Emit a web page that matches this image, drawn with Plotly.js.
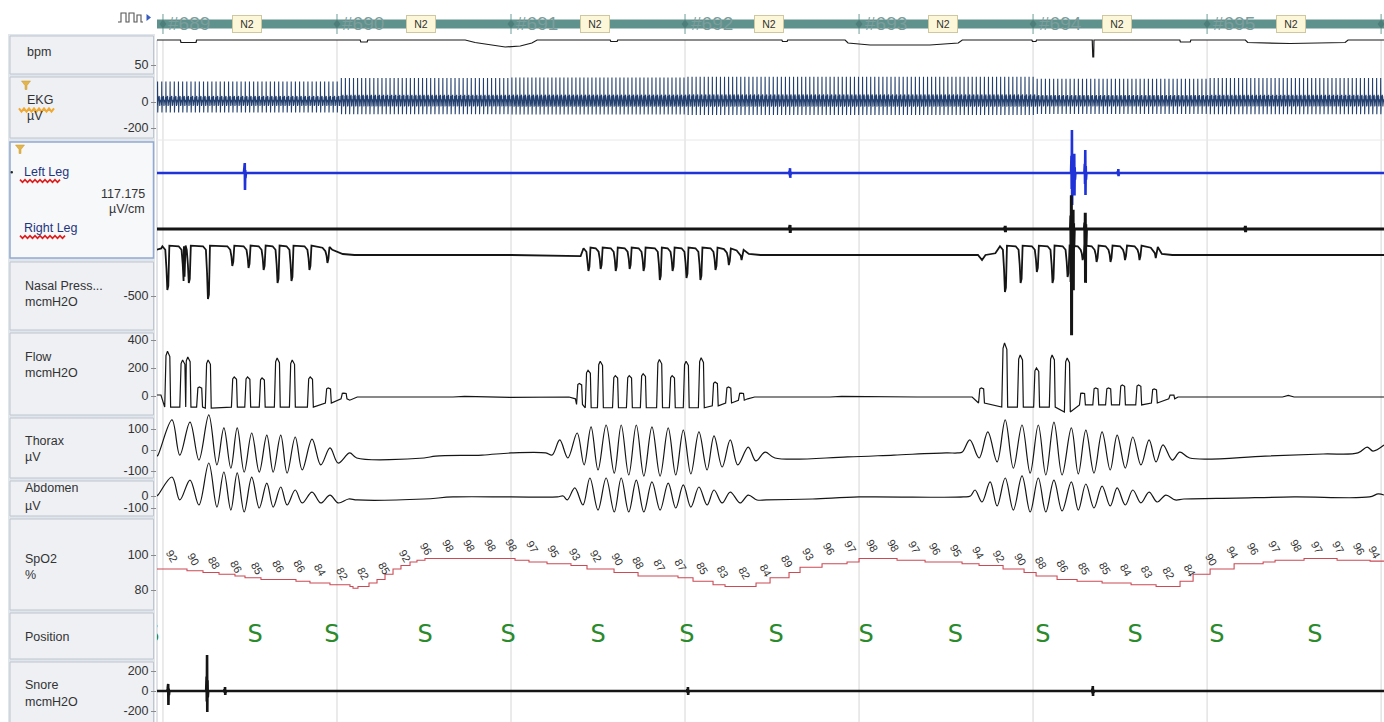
<!DOCTYPE html>
<html><head><meta charset="utf-8">
<script src="https://cdn.plot.ly/plotly-3.0.1.min.js"></script>
<style>html,body{margin:0;padding:0;background:#fff;overflow:hidden}#chart{width:1384px;height:722px}</style>
</head><body><div id="chart"></div>
<script>
// ================= DATA (time in seconds from start of epoch #689) =================
const epochNumbers = ['#689','#690','#691','#692','#693','#694','#695'];
const epochStages  = ['N2','N2','N2','N2','N2','N2','N2'];
const epochStarts  = [0, 30, 60, 90, 120, 150, 180, 210];

// Pulse (bpm): [t, value]
const pulsePts = [[-1.1,100],[3.0,100],[3.1,95],[5.7,95],[5.8,100],[34.0,100],[34.1,96],[35.2,96],[35.3,100],
  [52.1,100],[53.8,95],[56.4,90],[59.0,86],[61.6,88],[63.6,94],[64.5,100],[77.1,100],[77.2,97],[78.3,97],[78.4,100],
  [106.7,100],[106.8,97],[107.6,97],[107.7,100],[117.6,100],[118.1,94],[120.2,92],[121.9,90],[132.2,90],[134.8,92],
  [137.1,94],[137.8,100],[149.8,100],[149.9,97],[150.5,97],[150.6,100],[160.2,100],[160.3,66],[160.45,66],[160.5,100],
  [175.3,100],[175.4,96],[177.1,96],[177.2,100],[186.6,100],[187.0,95],[194.3,93],[203.8,95],[204.3,100],[210.6,100]];

// EKG (µV): one beat, beat interval and amplitude per epoch
const ekgBeatT = [0, 0.05, 0.09, 0.12, 0.15, 0.2, 0.3, 0.4, 0.5, 0.6];
const ekgBeatV = [0, 45, -30, 185, -95, -10, 40, 55, -35, 20];
const ekgRR    = [0.72, 0.70, 0.69, 0.70, 0.70, 0.71, 0.70, 0.70];
const ekgGain  = [0.85, 1.0, 1.02, 1.05, 1.05, 0.97, 1.0, 1.0];

// Leg EMG bursts (µV): [t, up, down]
const leftLegBursts  = [[14.1,31,-53],[108.1,15,-15],[156.7,133,-99],[157.1,60,-70],[159.0,71,-68],[164.7,12,-10]];
const rightLegBursts = [[108.1,12,-12],[145.2,10,-10],[156.6,105,-329],[156.9,60,-190],[159.0,50,-167],[186.6,10,-10]];

// Nasal pressure (mcmH2O): flat parts [t, v] and breath dips [t, depth, top]
const nasalFlat = [[-1.1,-170],[-0.3,-160],[29.2,-170],[31.0,-200],[33,-207],[60,-207],[72.0,-215],[101,-200],[103,-207],
  [140.5,-207],[141.2,-243],[141.8,-207],[143.5,-195],[172.2,-200],[174,-207],[210.6,-207]];
const nasalDips = [[0.8,-457,-150],[3.6,-393,-150],[4.5,-407,-150],[7.8,-521,-150],[12.0,-286,-150],[14.8,-300,-150],
  [17.4,-314,-150],[19.8,-407,-150],[22.2,-393,-150],[25.3,-314,-150],[28.4,-264,-160],
  [73.4,-321,-164],[75.5,-307,-164],[78.1,-321,-164],[80.5,-307,-164],[82.9,-321,-164],[85.7,-386,-164],[87.9,-321,-164],
  [90.3,-371,-164],[92.7,-386,-164],[95.3,-314,-164],[97.6,-279,-170],[99.8,-243,-180],
  [145.2,-471,-150],[147.9,-407,-150],[150.7,-329,-150],[153.4,-407,-150],[156.0,-364,-150],[158.6,-243,-150],
  [161.0,-257,-150],[163.4,-257,-150],[165.9,-243,-150],[168.4,-243,-150],[171.2,-229,-160]];

// Flow (mcmH2O): flat parts [t, v] and breaths [t, peak, trough]
const flowFlat = [[-1.1,7],[-0.35,7],[32.2,-30],[33.5,-7],[50,-7],[52,-3],[60,-10],[70,-7],[71.1,-20],[100.8,-20],
  [102,-7],[115,-7],[117,-3],[130,-7],[139.5,-7],[175,-7],[193,-7],[194,4],[195,-7],[210.6,-7]];
const flowBreaths = [[0.9,320,-79],[3.5,257,-79],[4.4,279,-79],[6.4,64,-79],[7.9,257,-86],[12.4,136,-79],[14.7,136,-79],
  [17.2,129,-79],[19.8,271,-79],[22.4,257,-79],[25.5,136,-79],[28.6,57,-50],[31.3,21,-20],
  [71.9,90,-60],[73.4,184,-84],[75.5,248,-84],[78.1,146,-84],[80.5,146,-84],[82.9,159,-84],[85.7,261,-84],[87.9,146,-84],
  [90.3,248,-84],[92.9,273,-84],[95.3,100,-70],[97.6,64,-50],[99.8,21,-30],
  [141.2,57,-50],[145.2,379,-79],[147.9,293,-79],[150.7,200,-79],[153.4,293,-79],[156.0,271,-114],[158.6,21,-64],
  [160.9,57,-64],[163.1,57,-64],[165.5,79,-64],[168.3,79,-64],[171.0,50,-50],[174.0,7,-20]];

// Thorax (µV): [t, v] peaks / troughs / flat parts
const thoraxPts = [[-1.1,-30],[-0.86,-24],[1.55,143],[2.9,-24],[4.66,133],[6.2,-48],[7.9,167],[9.3,-71],[10.5,105],[11.7,-86],
  [12.8,105],[14.0,-105],[15.3,81],[16.6,-105],[17.9,71],[19.0,-105],[20.3,71],[21.4,-110],[22.8,62],[24.0,-95],[25.7,52],
  [27.2,-71],[28.8,10],[30.2,-62],[32.2,-14],[33.4,-38],[45,-38],[47,-29],[55,-24],[60,-14],[66.0,-14],
  [67.1,-24],[68.4,48],[69.8,-38],[71.4,81],[72.6,-71],[73.8,110],[75.0,-95],[76.4,119],[77.8,-110],[79.0,119],[80.3,-119],
  [81.6,119],[82.9,-124],[84.3,110],[85.7,-124],[87.1,105],[88.4,-119],[89.7,95],[91.0,-114],[92.4,86],[93.8,-95],[95.0,67],
  [96.4,-81],[97.8,48],[99.1,-71],[100.9,14],[102.2,-52],[103.8,-10],[105.5,-38],[118,-33],[126,-24],[135,-14],[137.0,-14],
  [137.8,-10],[139.1,48],[140.7,-38],[142.2,86],[143.8,-57],[145.2,143],[146.6,-86],[148.1,119],[149.5,-110],[150.9,119],
  [152.2,-119],[153.6,133],[155.0,-119],[156.6,105],[157.8,-114],[159.1,95],[160.5,-110],[161.9,86],[163.3,-95],[164.5,71],
  [165.9,-86],[167.2,62],[168.6,-71],[170.0,48],[171.2,-57],[172.4,24],[174.0,-48],[175.3,-10],[177,-38],[190,-29],
  [200,-19],[206,-14],[207.6,14],[208.6,-5],[210.5,24]];

// Abdomen (µV): [t, v]
const abdomenPts = [[-1.1,0],[-0.86,8],[1.55,158],[2.9,-33],[4.66,133],[6.2,-75],[7.9,275],[9.3,-92],[10.5,200],[11.7,-117],
  [12.8,192],[14.0,-133],[15.3,158],[16.6,-100],[17.9,108],[19.0,-92],[20.3,75],[21.4,-75],[22.8,50],[24.0,-58],[25.7,33],
  [27.2,-58],[28.8,8],[30.2,-58],[32.0,-25],[33.5,-33],[45,-25],[50,-8],[60,-8],[68,-8],
  [69.0,0],[69.7,-33],[71.0,67],[72.4,-75],[73.6,150],[75.0,-117],[76.4,150],[77.8,-133],[79.0,150],[80.3,-133],[81.6,133],
  [82.9,-133],[84.3,117],[85.7,-117],[87.1,108],[88.4,-100],[89.7,92],[91.0,-92],[92.4,75],[93.8,-75],[95.0,50],[96.4,-58],
  [97.8,33],[99.5,-58],[100.9,8],[102.4,-33],[104,-33],[112,-25],[120,-8],[138,-8],
  [139.2,0],[140.0,50],[141.2,-50],[142.6,117],[143.8,-83],[145.2,150],[146.6,-117],[148.1,167],[149.5,-133],[150.9,150],
  [152.2,-133],[153.6,133],[155.0,-125],[156.6,117],[157.8,-117],[159.1,100],[160.5,-100],[161.9,83],[163.3,-83],[164.5,67],
  [165.9,-75],[167.2,50],[168.6,-58],[170.0,33],[171.4,-50],[172.9,8],[174.5,-33],[176,-25],[185,-17],[195,-8],[208,-8],
  [209.5,17],[210.5,8]];

// SpO2 (%): step line [t, v] and the printed values
const spo2Pts = [[-1.1,92],[4.14,91],[6.9,90],[9.66,89],[12.41,88],[14.14,87],[16.9,86],[22.93,85],[25.34,84],[28.79,83],
  [32.24,82],[32.76,81],[33.62,82],[35.52,84],[36.9,86],[38.28,89],[39.66,92],[41.03,94],[42.59,96],[43.79,97],[45.17,98],
  [60.69,97],[63.1,96],[66.21,95],[70.34,94],[73.1,92],[77.76,90],[81.9,88],[88.79,87],[91.38,85],[94.83,83],[96.9,82],
  [102.24,84],[104.66,87],[107.93,90],[109.83,93],[113.62,95],[117.93,96],[120.0,98],[126.55,97],[131.38,96],[137.76,95],
  [140.69,94],[144.83,92],[148.45,90],[150.52,88],[154.14,86],[157.59,85],[161.9,84],[166.9,83],[171.21,82],[175.34,85],
  [177.59,89],[180.52,92],[184.66,95],[189.66,96],[191.72,97],[196.72,98],[202.41,97],[208.1,96.5],[210.6,96.5]];
const spo2Labels = [92,90,88,86,85,86,86,84,82,82,85,92,96,98,98,98,98,97,95,93,92,90,88,87,87,85,83,82,84,89,93,96,97,98,98,
  97,96,95,94,92,90,88,86,85,85,84,83,82,84,90,94,96,97,98,97,97,96,94];
const spo2LabelStart = 1.55, spo2LabelStep = 3.655;

// Body position
const positionTimes  = [-1.9,15.9,29.1,45.2,59.5,75.0,90.3,105.7,121.2,136.6,151.7,167.6,181.7,198.6];
const positionLabels = ['S','S','S','S','S','S','S','S','S','S','S','S','S','S'];

// Snore (mcmH2O) bursts: [t, up, down]
const snoreBursts = [[0.9,70,-140],[7.6,360,-210],[10.7,40,-40],[90.5,40,-40],[160.3,50,-50]];

// ================= BUILD =================
const W = 1384, H = 722, PL = 157, PW = W - PL;
const XR = [-1.03, 210.5];
const px2x = px => (px - PL) / PW;
const px2y = py => 1 - py / H;
const FONT = 'Liberation Sans, Arial, sans-serif';

function xy(pts){ return {x: pts.map(p=>p[0]), y: pts.map(p=>p[1])}; }
function bursts(list, tEnd){
  const pts=[[-1.1,0]];
  list.forEach(([t,u,d])=>{ pts.push([t-0.15,0],[t-0.08,u*0.4],[t-0.04,d*0.5],[t,u],[t+0.04,d],[t+0.08,u*0.3],[t+0.12,d*0.3],[t+0.2,0]); });
  pts.push([tEnd,0]); pts.sort((a,b)=>a[0]-b[0]); return pts;
}
function buildFlow(){
  const pts=flowFlat.map(p=>p.slice());
  flowBreaths.forEach(([t,pk,tr])=>pts.push([t-0.6,tr],[t-0.38,pk*0.9],[t-0.12,pk],[t+0.28,pk*0.88],[t+0.42,tr]));
  pts.sort((a,b)=>a[0]-b[0]); return pts;
}
function buildNasal(){
  const pts=nasalFlat.map(p=>p.slice());
  nasalDips.forEach(([t,d,top])=>pts.push([t-0.9,top+5],[t-0.4,top-20],[t-0.2,(top+d)/2],[t-0.05,d],[t+0.12,d+30],[t+0.3,top+10]));
  pts.sort((a,b)=>a[0]-b[0]); return pts;
}
function buildEkg(){
  const x=[],y=[]; let t=-1.05;
  while(t<210.6){
    const e=Math.max(0,Math.min(ekgRR.length-1,Math.floor(t/30)));
    for(let k=0;k<ekgBeatT.length;k++){ x.push(t+ekgBeatT[k]); y.push(ekgGain[e]*ekgBeatV[k]); }
    t+=ekgRR[e];
  }
  return {x,y};
}

function yax(top,bot,refV,refPx,s,ticks){
  const o={domain:[1-bot/H,1-top/H],range:[refV-(bot-refPx)/s,refV+(refPx-top)/s],anchor:'x',
    showgrid:false,zeroline:false,fixedrange:true,showline:false};
  if(ticks){ Object.assign(o,{tickmode:'array',tickvals:ticks,ticktext:ticks.map(String),ticks:'outside',ticklen:5,
    tickcolor:'#8a8a8a',tickwidth:1,showticklabels:true,tickfont:{family:FONT,size:12.5,color:'#333'}}); }
  else { Object.assign(o,{showticklabels:false,ticks:''}); }
  return o;
}

const lineT=(d,ax,color,w,shape)=>Object.assign({type:'scatter',mode:'lines',xaxis:'x',yaxis:ax,hoverinfo:'skip',
  line:{color:color,width:w,shape:shape||'linear'}},d);

const traces=[
  lineT(xy(pulsePts),'y','#1a1a1a',1.2),
  lineT(buildEkg(),'y2','#23406e',1.1),
  lineT(xy(bursts(leftLegBursts,210.6)),'y3','#1f33d8',2.6),
  lineT(xy(bursts(rightLegBursts,210.6)),'y4','#151515',3),
  lineT(xy(buildNasal()),'y5','#151515',1.8),
  lineT(xy(buildFlow()),'y6','#151515',1.2),
  lineT(xy(thoraxPts),'y7','#151515',1.2,'spline'),
  lineT(xy(abdomenPts),'y8','#151515',1.2,'spline'),
  lineT(xy(spo2Pts),'y9','#cc4a55',1.1,'hv'),
  {type:'scatter',mode:'text',xaxis:'x',yaxis:'y10',x:positionTimes,y:positionTimes.map(()=>0.5),text:positionLabels,
    textfont:{family:'DejaVu Sans, sans-serif',size:24,color:'#2a8a2c'},cliponaxis:true,hoverinfo:'skip'},
  lineT(xy(bursts(snoreBursts,210.6)),'y11','#151515',2.6)
];

const layout={
  width:W,height:H,margin:{l:PL,r:0,t:0,b:0},paper_bgcolor:'#ffffff',plot_bgcolor:'rgba(0,0,0,0)',showlegend:false,
  font:{family:FONT,size:12,color:'#333'},
  xaxis:{range:XR,visible:false,fixedrange:true,domain:[0,1]},
  yaxis:  yax(36,74,50,65,0.5,[50]),
  yaxis2: yax(70,138,0,102,0.13,[0,-200]),
  yaxis3: yax(120,215,0,173,1/3.1,null),
  yaxis4: yax(185,340,0,229,1/3.1,null),
  yaxis5: yax(235,330,-500,296,0.14,[-500]),
  yaxis6: yax(333,416,0,396,0.14,[400,200,0]),
  yaxis7: yax(410,480,0,450,0.21,[100,0,-100]),
  yaxis8: yax(455,516,0,496,0.12,[0,-100]),
  yaxis9: yax(519,612,100,555,1.75,[100,80]),
  yaxis10:{domain:[1-659/H,1-613/H],range:[0,1],anchor:'x',visible:false,fixedrange:true},
  yaxis11:yax(648,722,0,691,0.1,[200,0,-200]),
  shapes:[],annotations:[]
};
const S=layout.shapes, A=layout.annotations;

// left panel boxes
S.push({type:'rect',xref:'paper',yref:'paper',x0:px2x(8),x1:px2x(155),y0:px2y(723),y1:px2y(34),fillcolor:'#e1e6ec',line:{width:0},layer:'below'});
[[36,74],[77,138],[142,258,1],[262,330],[333,415],[418,478],[481,516],[519,610],[613,659],[662,724]].forEach(b=>{
  S.push({type:'rect',xref:'paper',yref:'paper',x0:px2x(10),x1:px2x(153.5),y0:px2y(b[1]),y1:px2y(b[0]),
    fillcolor:b[2]?'#f7f8fa':'#eef0f3',line:{color:b[2]?'#93a9cf':'#bfc6d0',width:b[2]?1.5:1},layer:'below'});
});
// axis spine
S.push({type:'line',xref:'paper',yref:'paper',x0:0,x1:0,y0:0,y1:px2y(40),line:{color:'#c4c8ce',width:1},layer:'below'});
// epoch grid lines
epochStarts.forEach(b=>S.push({type:'line',xref:'x',yref:'paper',x0:b,x1:b,y0:0,y1:px2y(40),line:{color:'#d6d6d6',width:1},layer:'below'}));
S.push({type:'line',xref:'paper',yref:'paper',x0:0,x1:1,y0:px2y(140),y1:px2y(140),line:{color:'#e8e8e8',width:1},layer:'below'});
// header bar
S.push({type:'rect',xref:'paper',yref:'paper',x0:0,x1:1,y0:px2y(28.5),y1:px2y(19.5),fillcolor:'#5f918d',line:{width:0}});
epochStarts.forEach(b=>{
  S.push({type:'line',xref:'x',yref:'paper',x0:b,x1:b,y0:px2y(34),y1:px2y(14),line:{color:'#6f9c98',width:1}});
  S.push({type:'path',xref:'x',yref:'paper',path:`M${b-0.6},${px2y(24)} L${b},${px2y(19.5)} L${b+0.6},${px2y(24)} L${b},${px2y(28.5)} Z`,
    fillcolor:'#4e7e7a',line:{width:0}});
});
epochNumbers.forEach((n,i)=>{
  A.push({xref:'x',yref:'paper',x:epochStarts[i]+0.6,y:px2y(23.5),xanchor:'left',yanchor:'middle',text:n,showarrow:false,
    font:{family:FONT,size:19,color:'#7c9d9b'}});
  A.push({xref:'x',yref:'paper',x:epochStarts[i]+14.5,y:px2y(24),xanchor:'center',yanchor:'middle',text:epochStages[i],showarrow:false,
    font:{family:FONT,size:10.5,color:'#333'},bgcolor:'#fcf7d9',bordercolor:'#cfc7a0',borderwidth:1,borderpad:1,width:26,height:14});
});
// top-left signal icon
const P=(pts)=>'M'+pts.map(p=>px2x(p[0])+','+px2y(p[1])).join(' L');
S.push({type:'path',xref:'paper',yref:'paper',path:P([[118,22],[121,22],[121,13],[126,13],[126,22],[129,22],[129,13],[134,13],[134,22],[137,22],[137,15],[141,15],[141,22],[143,22]]),
  line:{color:'#555',width:1.1}});
S.push({type:'path',xref:'paper',yref:'paper',path:P([[146.5,14],[151,17.5],[146.5,21]])+' Z',fillcolor:'#3a5cc0',line:{width:0}});

// funnel icons
function funnel(cx,cy){ return P([[cx-4.5,cy-4],[cx+4.5,cy-4],[cx+1,cy+0.5],[cx+1,cy+4.5],[cx-1,cy+4.5],[cx-1,cy+0.5]])+' Z'; }
S.push({type:'path',xref:'paper',yref:'paper',path:funnel(26,85),fillcolor:'#e3b54a',line:{color:'#c9982e',width:0.5}});
S.push({type:'path',xref:'paper',yref:'paper',path:funnel(20,149),fillcolor:'#e3b54a',line:{color:'#c9982e',width:0.5}});
// wavy underlines
function zig(x0,x1,y,a,st){ const p=[]; let up=true; for(let x=x0;x<=x1;x+=st){ p.push([x,y+(up?-a:a)]); up=!up; } return P(p); }
S.push({type:'path',xref:'paper',yref:'paper',path:zig(19,55,110,1.6,2.5),line:{color:'#f0a830',width:2}});
S.push({type:'path',xref:'paper',yref:'paper',path:zig(20,62,181,1.4,2.5),line:{color:'#e01b1b',width:1.6}});
S.push({type:'path',xref:'paper',yref:'paper',path:zig(20,66,237,1.4,2.5),line:{color:'#e01b1b',width:1.6}});

// panel labels
function lab(text,x,y,opt){ A.push(Object.assign({xref:'paper',yref:'paper',x:px2x(x),y:px2y(y),xanchor:'left',yanchor:'middle',
  text:text,showarrow:false,font:{family:FONT,size:12.5,color:'#333'}},opt||{})); }
lab('bpm',25,52);
lab('EKG',25,100); lab('µV',25,116);
lab('Left Leg',22,172,{font:{family:FONT,size:12.5,color:'#1e3580'}});
lab('117.175',147,194,{xanchor:'right'}); lab('µV/cm',147,209,{xanchor:'right'});
lab('Right Leg',22,228,{font:{family:FONT,size:12.5,color:'#1e3580'}});
lab('Nasal Press...',23,286); lab('mcmH2O',23,302);
lab('Flow',23,357); lab('mcmH2O',23,373);
lab('Thorax',23,441); lab('µV',23,457);
lab('Abdomen',23,488); lab('µV',23,506);
lab('SpO2',23,559); lab('%',23,575);
lab('Position',23,637);
lab('Snore',23,685); lab('mcmH2O',23,702);
S.push({type:'circle',xref:'paper',yref:'paper',x0:px2x(10.5),x1:px2x(13),y0:px2y(173.5),y1:px2y(171),fillcolor:'#222',line:{width:0}});

// SpO2 printed values (last one nudged inside the frame)
spo2Labels.forEach((v,i)=>A.push({xref:'x',yref:'y9',x:Math.min(spo2LabelStart+i*spo2LabelStep,208.8),y:v+7.5,text:String(v),showarrow:false,
  textangle:60,xanchor:'center',yanchor:'middle',font:{family:FONT,size:11,color:'#333'}}));

Plotly.newPlot('chart',traces,layout,{staticPlot:true,displayModeBar:false});
</script></body></html>
